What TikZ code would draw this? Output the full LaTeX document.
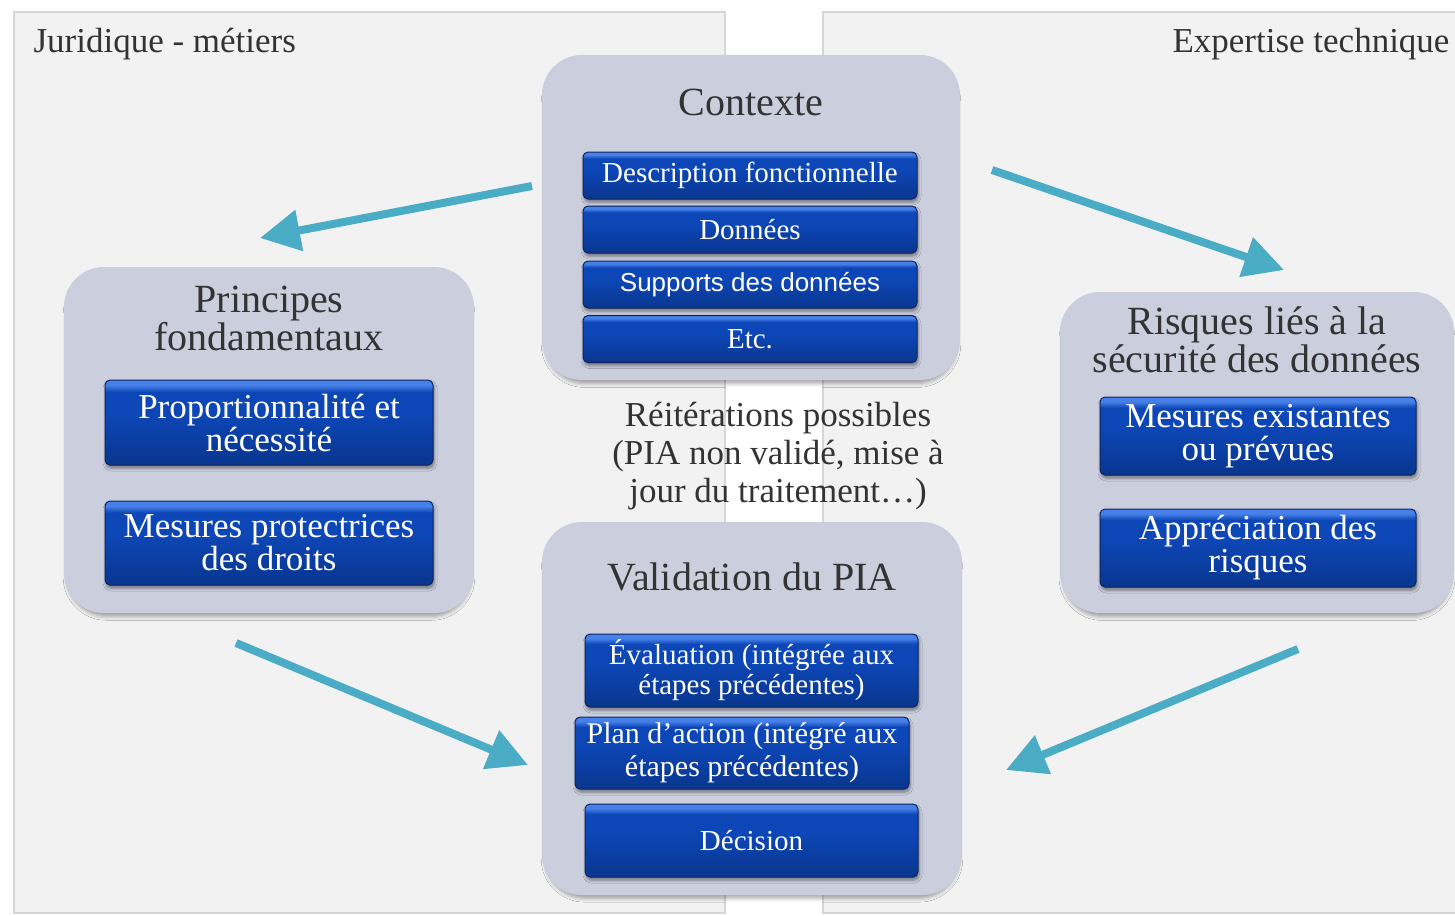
\documentclass[tikz,border=0pt]{standalone}
\usepackage{fontspec}
\setmainfont{Liberation Serif}
\newfontfamily\arialfont{Liberation Sans}
\usetikzlibrary{arrows.meta,positioning,shadows.blur}
\definecolor{panelgray}{RGB}{242,242,242}
\definecolor{panelline}{RGB}{214,214,214}
\definecolor{groupfill}{RGB}{203,206,221}
\definecolor{titlegray}{RGB}{51,51,51}
\definecolor{boxtop}{RGB}{70,128,232}
\definecolor{boxmid}{RGB}{13,70,182}
\definecolor{boxbottom}{RGB}{9,54,142}
\definecolor{boxline}{RGB}{16,36,96}
\definecolor{flowteal}{RGB}{75,172,198}
\pgfdeclareverticalshading{itemshade}{100bp}{color(0bp)=(boxbottom); color(25bp)=(boxbottom);
  color(55bp)=(boxmid); color(68bp)=(boxmid); color(72bp)=(boxtop); color(100bp)=(boxtop)}
\tikzset{
  panel/.style={fill=panelgray,draw=panelline,line width=2pt},
  group/.style={rectangle,rounded corners=40pt,fill=groupfill,inner sep=0pt,
    blur shadow={shadow xshift=0pt,shadow yshift=-6pt,shadow scale=0.985,
      shadow blur radius=4pt,shadow opacity=35}},
  grouptitle/.style={text=titlegray,align=center,font=\fontsize{40}{38}\selectfont},
  sidelabel/.style={text=titlegray,font=\fontsize{35}{38}\selectfont},
  item/.style={rectangle,rounded corners=5pt,draw=boxline,line width=1pt,
    shading=itemshade,
    text=white,align=center,inner sep=2pt,
    blur shadow={shadow xshift=1pt,shadow yshift=-3pt,shadow blur radius=3pt,shadow opacity=45}},
  smallitem/.style={item,font=\fontsize{29}{30}\selectfont},
  bigitem/.style={item,font=\fontsize{35}{33}\selectfont},
  flow/.style={-{Triangle[width=40pt,length=40pt]},line width=8pt,draw=flowteal,
    preaction={draw=black!15,transform canvas={xshift=1pt,yshift=-3pt}}}
}

\begin{document}
\begin{tikzpicture}[x=1pt,y=-1pt]
\useasboundingbox (0,0) rectangle (1455,915);

% two expertise areas
\draw[panel] (14,12) rectangle (725,913);
\draw[panel] (823,12) rectangle (1470,913);
\node[sidelabel,anchor=west] (jurid) at (30,44) {Juridique - métiers};
\node[sidelabel,anchor=east] (expert) at (1453,44) {Expertise technique};

% Contexte
\node[group,minimum width=418pt,minimum height=325pt] (ctx) at (751,217.5) {};
\node[grouptitle] (ctxtitle) at (751,102) {Contexte};
\node[smallitem,minimum width=334pt,minimum height=47pt] (descr) at (750,175.5)
  {Description fonctionnelle};
\node[smallitem,minimum width=334pt,minimum height=47pt] (donnees) at (750,229.5)
  {Données};
\node[smallitem,minimum width=334pt,minimum height=47pt,font=\arialfont\fontsize{26}{28}\selectfont]
  (supports) at (750,284.5) {Supports des données};
\node[smallitem,minimum width=334pt,minimum height=47pt] (etc) at (750,339)
  {Etc.};

% Principes fondamentaux
\node[group,minimum width=410pt,minimum height=346pt] (princ) at (269,440) {};
\node[grouptitle] (princtitle) at (269,318) {Principes\\fondamentaux};
\node[bigitem,minimum width=328pt,minimum height=85pt] (propor) at (269,422.5)
  {Proportionnalité et\\nécessité};
\node[bigitem,minimum width=328pt,minimum height=84pt] (protect) at (269,543)
  {Mesures protectrices\\des droits};

% Risques
\node[group,minimum width=394pt,minimum height=321pt] (risk) at (1257,452.5) {};
\node[grouptitle] (risktitle) at (1257,339.5) {Risques liés à la\\sécurité des données};
\node[bigitem,minimum width=316pt,minimum height=78pt] (existing) at (1258,436)
  {Mesures existantes\\ou prévues};
\node[bigitem,minimum width=316pt,minimum height=78pt] (apprec) at (1258,548)
  {Appréciation des\\risques};

% Validation du PIA
\node[group,minimum width=420pt,minimum height=373pt] (valid) at (752,708.5) {};
\node[grouptitle] (validtitle) at (752,577) {Validation du PIA};
\node[smallitem,minimum width=333pt,minimum height=73pt] (evalu) at (751.5,670.5)
  {Évaluation (intégrée aux\\étapes précédentes)};
\node[smallitem,minimum width=334pt,minimum height=72pt,font=\fontsize{30}{33}\selectfont]
  (plan) at (742,753) {Plan d’action (intégré aux\\étapes précédentes)};
\node[smallitem,minimum width=333pt,minimum height=73pt] (decision) at (751.5,840.5)
  {Décision};

% iterations
\node[sidelabel,align=center] (iter) at (778,456)
  {Réitérations possibles\\(PIA non validé, mise à\\jour du traitement…)};

% flows
\coordinate (ctxout1) at (532,186);
\coordinate (princin) at (260,238);
\coordinate (ctxout2) at (992,170);
\coordinate (riskin) at (1284,270);
\coordinate (princout) at (236,643);
\coordinate (validin1) at (528,765);
\coordinate (riskout) at (1298,649);
\coordinate (validin2) at (1006,770);
\draw[flow] (ctxout1) -- (princin);
\draw[flow] (ctxout2) -- (riskin);
\draw[flow] (princout) -- (validin1);
\draw[flow] (riskout) -- (validin2);

\end{tikzpicture}
\end{document}
